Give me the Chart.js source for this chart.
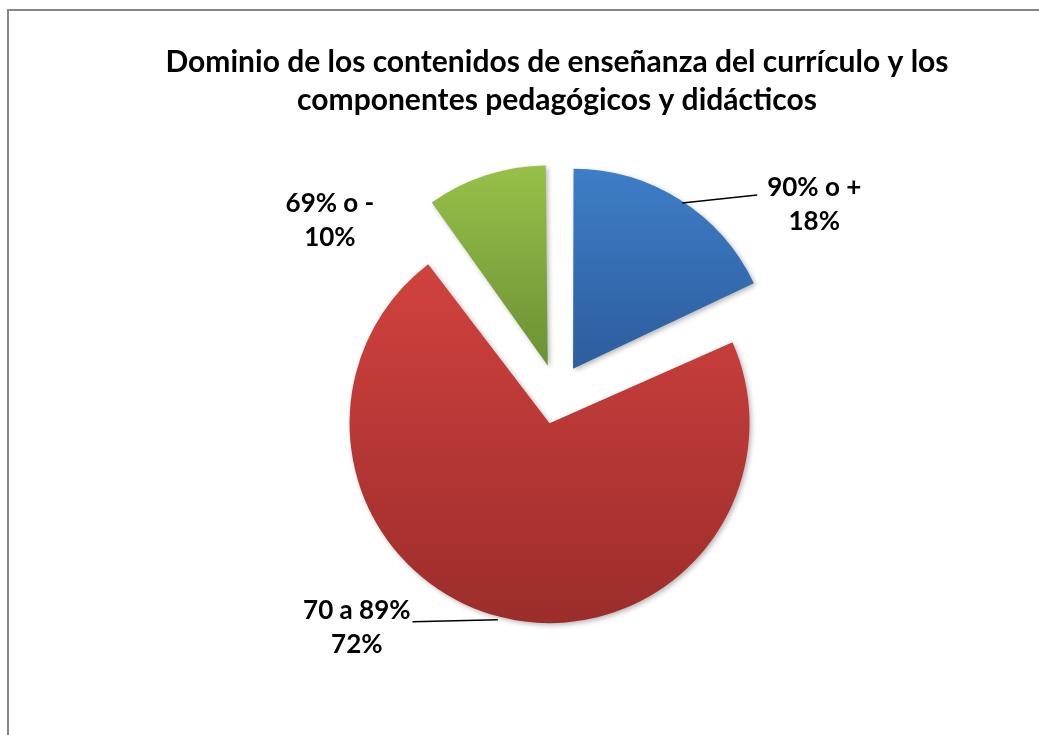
<!DOCTYPE html>
<html lang="es">
<head>
<meta charset="utf-8">
<title>Dominio de los contenidos de enseñanza</title>
<script src="https://cdn.jsdelivr.net/npm/chart.js@4"></script>
<style>
    html, body {
        margin: 0;
        padding: 0;
        background: #ffffff;
        overflow: hidden;
    }
    #wrap {
        position: relative;
        width: 1039px;
        height: 735px;
    }
    #frame {
        position: absolute;
        left: 7px;
        top: 9px;
        width: 1100px;
        height: 800px;
        border: 2px solid #878787;
        box-sizing: border-box;
    }
    canvas {
        position: absolute;
        left: 0;
        top: 0;
    }
</style>
</head>
<body>
<div id="wrap">
    <div id="frame"></div>
    <canvas id="pieChart" width="1039" height="735"></canvas>
</div>
<script>
// Données du graphique
const titleLines = ['Dominio de los contenidos de enseñanza del currículo y los', 'componentes pedagógicos y didácticos'];
const categories = ['90% o +', '70 a 89%', '69% o -'];
const percentages = [18, 72, 10];

// Styles des parts (dégradé haut -> bas)
const sliceGradients = [
    [[0, '#4083ce'], [0.45, '#2f60a2'], [1, '#22487c']],
    [[0, '#d84543'], [0.22, '#cd403d'], [1, '#972b29']],
    [[0, '#9dc84c'], [0.45, '#709636'], [1, '#4f6b24']]
];
// Décalage des étiquettes par rapport au bord de la part, et lignes de rappel
const labelShift = [[134, 5], [-143, 11], [-156, 45]];
const showLeader = [true, true, false];

const PIE_RADIUS = 200;
const EXPLODE = 30;
const labelFont = 'bold 26px Lato, "Open Sans", sans-serif';

/**
 * Dégradé vertical pour chaque part
 */
function sliceColor(context) {
    const chart = context.chart;
    const area = chart.chartArea;
    const stops = sliceGradients[context.dataIndex];
    if (!area) return stops[0][1];
    const cy = (area.top + area.bottom) / 2;
    const g = chart.ctx.createLinearGradient(0, cy - PIE_RADIUS - EXPLODE, 0, cy + PIE_RADIUS + EXPLODE);
    stops.forEach(s => g.addColorStop(s[0], s[1]));
    return g;
}

/**
 * Chart.js agrandit les grandes parts décalées : on compense pour garder le même rayon
 */
const equalRadiusPlugin = {
    id: 'equalRadius',
    afterDatasetUpdate(chart, args) {
        const meta = args.meta;
        meta.data.forEach(arc => {
            const off = (arc.options.offset || 0) / 4;
            const fix = 1 - Math.sin(Math.min(Math.PI, arc.circumference || 0));
            arc.outerRadius = PIE_RADIUS - off * fix;
        });
    },
    beforeDatasetDraw(chart) {
        const ctx = chart.ctx;
        ctx.save();
        ctx.shadowColor = 'rgba(0, 0, 0, 0.28)';
        ctx.shadowBlur = 5;
        ctx.shadowOffsetX = 2;
        ctx.shadowOffsetY = 2;
    },
    afterDatasetDraw(chart) {
        chart.ctx.restore();
    }
};

/**
 * Étiquettes de données (catégorie + pourcentage) avec lignes de rappel
 */
const sliceLabelsPlugin = {
    id: 'sliceLabels',
    afterDraw(chart) {
        const ctx = chart.ctx;
        const meta = chart.getDatasetMeta(0);
        ctx.save();
        ctx.font = labelFont;
        ctx.fillStyle = '#000000';
        ctx.textAlign = 'center';
        ctx.textBaseline = 'middle';
        meta.data.forEach((arc, i) => {
            const mid = (arc.startAngle + arc.endAngle) / 2;
            const dist = PIE_RADIUS + EXPLODE;
            const ex = arc.x + Math.cos(mid) * dist;
            const ey = arc.y + Math.sin(mid) * dist;
            const cx = ex + labelShift[i][0];
            const cy = ey + labelShift[i][1];
            const lines = [categories[i], percentages[i] + '%'];
            const lineH = 34;
            const w = Math.max(...lines.map(l => ctx.measureText(l).width));
            lines.forEach((l, k) => {
                ctx.fillText(l, cx, cy + (k - 0.5) * lineH);
            });
            if (showLeader[i]) {
                const tx = cx > ex ? cx - w / 2 - 10 : cx + w / 2 + 2;
                const ty = cy - (cx > ex ? 10 : 6);
                ctx.beginPath();
                ctx.strokeStyle = '#000000';
                ctx.lineWidth = 1.5;
                ctx.moveTo(ex + (cx > ex ? 2 : -2), ey + 3);
                ctx.lineTo(tx, ty);
                ctx.stroke();
            }
        });
        ctx.restore();
    }
};

document.addEventListener('DOMContentLoaded', function() {
    const ctx = document.getElementById('pieChart').getContext('2d');
    new Chart(ctx, {
        type: 'pie',
        data: {
            labels: categories,
            datasets: [{
                data: percentages,
                backgroundColor: sliceColor,
                borderWidth: 0,
                offset: EXPLODE * 4,
                hoverOffset: EXPLODE * 4,
                radius: PIE_RADIUS
            }]
        },
        options: {
            responsive: false,
            animation: false,
            layout: {
                padding: { left: 100, right: 25, top: 10, bottom: 66 }
            },
            plugins: {
                legend: { display: false },
                tooltip: { enabled: false },
                title: {
                    display: true,
                    text: titleLines,
                    color: '#000000',
                    font: { family: 'Lato, "Open Sans", sans-serif', size: 30, weight: 'bold', lineHeight: 1.27 },
                    padding: { top: 33, bottom: 0 }
                }
            }
        },
        plugins: [equalRadiusPlugin, sliceLabelsPlugin]
    });
});
</script>
</body>
</html>
